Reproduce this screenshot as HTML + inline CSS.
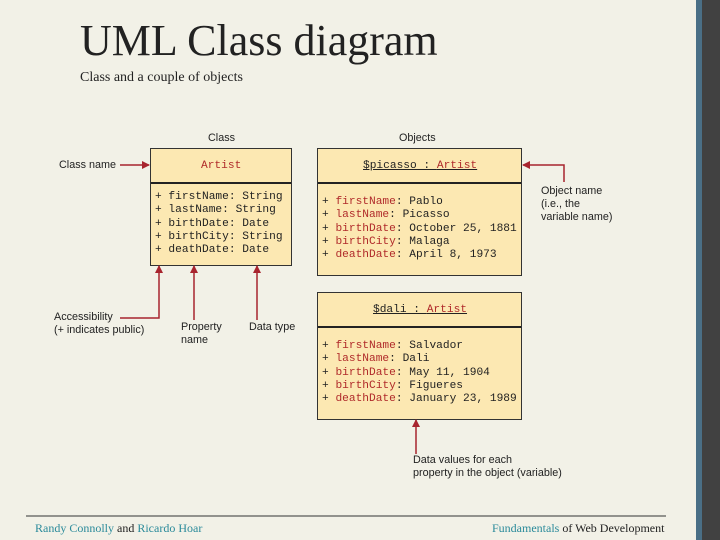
<!DOCTYPE html>
<html><head><style>
body{margin:0;width:720px;height:540px;background:#f2f1e7;position:relative;overflow:hidden;font-family:"Liberation Sans","DejaVu Sans",sans-serif}
.a{position:absolute;white-space:nowrap}
.box{position:absolute;background:#fce8b2;border:1.5px solid #333;box-sizing:border-box}
.hd{position:absolute;left:0;right:0;border-bottom:2px solid #222}
.mono{font-family:"Liberation Mono","DejaVu Sans Mono",monospace;font-size:11.2px;line-height:13.3px;color:#222}
.r{color:#b02a2a}
.lbl{font-size:10.8px;color:#222;line-height:13px}
</style></head><body>
<div class="a" style="left:696px;top:0;width:6px;height:540px;background:#4a6f86"></div>
<div class="a" style="left:702px;top:0;width:18px;height:540px;background:#414141"></div>
<div class="a" style="left:80px;top:15px;font-family:'Liberation Serif',serif;font-size:44px;color:#222">UML Class diagram</div>
<div class="a" style="left:80px;top:70px;font-family:'Liberation Serif',serif;font-size:14px;color:#222">Class and a couple of objects</div>

<div class="a lbl" style="left:208px;top:132px">Class</div>
<div class="a lbl" style="left:399px;top:132px">Objects</div>

<div class="box" style="left:150px;top:148px;width:142px;height:118px">
<div class="hd" style="top:0;height:33px"></div>
<div class="a mono r" style="left:50px;top:11px">Artist</div>
<div class="a mono" style="left:4px;top:42px">+ firstName: String<br>+ lastName: String<br>+ birthDate: Date<br>+ birthCity: String<br>+ deathDate: Date</div>
</div>

<div class="box" style="left:317px;top:148px;width:205px;height:128px">
<div class="hd" style="top:0;height:33px"></div>
<div class="a mono" style="left:45px;top:11px;text-decoration:underline">$picasso : <span class="r">Artist</span></div>
<div class="a mono" style="left:4px;top:47px">+ <span class="r">firstName</span>: Pablo<br>+ <span class="r">lastName</span>: Picasso<br>+ <span class="r">birthDate</span>: October 25, 1881<br>+ <span class="r">birthCity</span>: Malaga<br>+ <span class="r">deathDate</span>: April 8, 1973</div>
</div>

<div class="box" style="left:317px;top:292px;width:205px;height:128px">
<div class="hd" style="top:0;height:33px"></div>
<div class="a mono" style="left:55px;top:11px;text-decoration:underline">$dali : <span class="r">Artist</span></div>
<div class="a mono" style="left:4px;top:47px">+ <span class="r">firstName</span>: Salvador<br>+ <span class="r">lastName</span>: Dali<br>+ <span class="r">birthDate</span>: May 11, 1904<br>+ <span class="r">birthCity</span>: Figueres<br>+ <span class="r">deathDate</span>: January 23, 1989</div>
</div>

<svg class="a" style="left:0;top:0" width="720" height="540">
<defs><marker id="m" markerWidth="8" markerHeight="8" refX="7" refY="4" orient="auto" markerUnits="userSpaceOnUse"><path d="M0,0 L8,4 L0,8 Z" fill="#a8242e"/></marker></defs>
<g stroke="#a8242e" stroke-width="1.5" fill="none" marker-end="url(#m)">
<path d="M120,165 H149"/>
<path d="M564,182 V165 H523"/>
<path d="M120,318 H159 V266"/>
<path d="M194,320 V266"/>
<path d="M257,320 V266"/>
<path d="M416,454 V420"/>
</g>
<line x1="26" y1="516" x2="666" y2="516" stroke="#333" stroke-width="1"/>
</svg>

<div class="a lbl" style="left:59px;top:159px">Class name</div>
<div class="a lbl" style="left:541px;top:185px">Object name<br>(i.e., the<br>variable name)</div>
<div class="a lbl" style="left:54px;top:311px">Accessibility<br>(+ indicates public)</div>
<div class="a lbl" style="left:181px;top:321px">Property<br>name</div>
<div class="a lbl" style="left:249px;top:321px">Data type</div>
<div class="a lbl" style="left:413px;top:454px">Data values for each<br>property in the object (variable)</div>

<div class="a" style="left:35px;top:521px;font-family:'Liberation Serif',serif;font-size:12px;color:#222"><span style="color:#2a8a9a">Randy Connolly</span> and <span style="color:#2a8a9a">Ricardo Hoar</span></div>
<div class="a" style="left:492px;top:521px;font-family:'Liberation Serif',serif;font-size:12px;color:#222"><span style="color:#2a8a9a">Fundamentals</span> of Web Development</div>
</body></html>
